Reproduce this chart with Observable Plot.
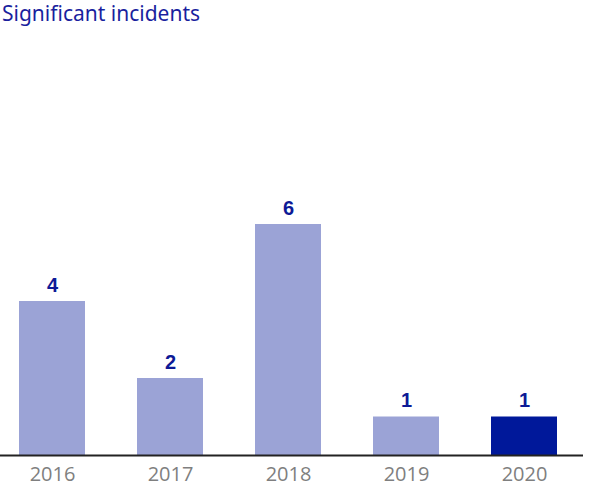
<!DOCTYPE html>
<html>
<head>
<meta charset="utf-8">
<script src="https://cdn.jsdelivr.net/npm/d3@7"></script>
<script src="https://cdn.jsdelivr.net/npm/@observablehq/plot@0.6"></script>
<style>
  body { margin: 0; background: #fff; }
  #title { font-family: "Noto Sans", sans-serif; font-size: 21px; color: #1a1f9e; height: 30px; line-height: 27px; padding-left: 2px; white-space: nowrap; }
  svg { display: block; }
</style>
</head>
<body>
<div id="title">Significant incidents</div>
<div id="chart"></div>
<script>
const years = ["2016", "2017", "2018", "2019", "2020"];
const incidents = [4, 2, 6, 1, 1];
const highlight = ["2020"];

const data = years.map((y, i) => ({year: y, value: incidents[i], hi: highlight.includes(y)}));

const chart = Plot.plot({
  width: 591,
  height: 459,
  marginLeft: 0,
  marginRight: 8,
  marginTop: 40,
  marginBottom: 34,
  style: {fontFamily: "Open Sans, sans-serif", background: "#fff"},
  x: {domain: years, range: [-7, 583], padding: 0.44, paddingOuter: 0.22, label: null},
  y: {domain: [0, 10], axis: null},
  marks: [
    Plot.barY(data, {x: "year", y: "value", fill: d => d.hi ? "#00189a" : "#9ba3d6"}),
    Plot.text(data, {x: "year", y: "value", text: d => String(d.value), lineAnchor: "bottom", dy: -10, fontSize: 20, fontWeight: "bold", fill: "#0d1a96", fontFamily: "Liberation Sans, Arial, sans-serif"}),
    Plot.ruleY([0], {stroke: "#222", strokeWidth: 2}),
    Plot.axisX({tickSize: 0, tickPadding: 11, fontSize: 20, fill: "#7f7f7f"})
  ]
});
document.getElementById("chart").appendChild(chart);
</script>
</body>
</html>
